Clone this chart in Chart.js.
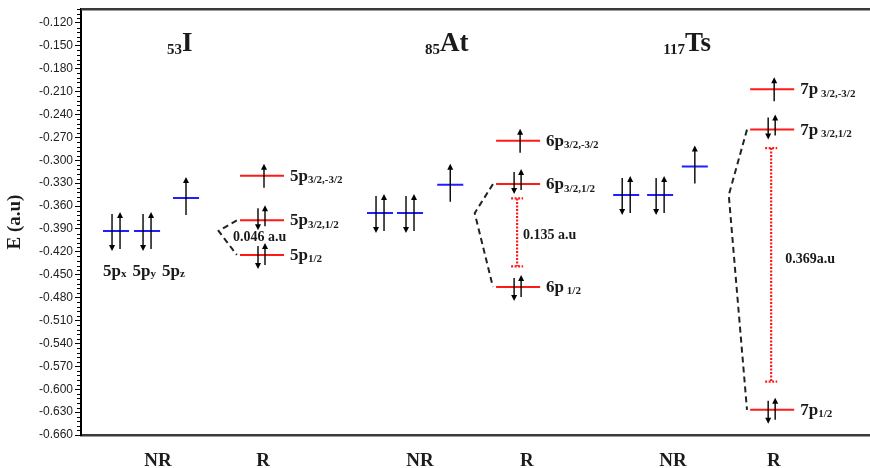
<!DOCTYPE html>
<html lang="en">
<head>
<meta charset="UTF-8">
<title>p-orbital energies: I, At, Ts (NR vs R)</title>
<script src="https://cdn.jsdelivr.net/npm/chart.js@4.4.0/dist/chart.umd.min.js"></script>
<style>
  html, body { margin: 0; padding: 0; background: #fff; }
  #wrap { width: 870px; height: 468px; }
</style>
</head>
<body>
<div id="wrap"><canvas id="levels"></canvas></div>
<script>
// ---- data, energies in a.u. ----
const elements = ['I', 'At', 'Ts'];
const atomicNumbers = ['53', '85', '117'];
const shells = ['5', '6', '7'];
const nrPxy = [-0.3926, -0.3692, -0.3455];   // NR p_x = p_y (doubly occupied)
const nrPz  = [-0.3494, -0.3320, -0.3082];   // NR p_z (single electron)
const rP32b = [-0.3203, -0.2745, -0.2070];   // R p3/2,-3/2
const rP32a = [-0.3787, -0.3312, -0.2598];   // R p3/2,1/2
const rP12  = [-0.4240, -0.4660, -0.6270];   // R p1/2
const rSubs = [
  ['3/2,-3/2', '3/2,1/2', '1/2'],
  ['3/2,-3/2', '3/2,1/2', ' 1/2'],
  [' 3/2,-3/2', ' 3/2,1/2', '1/2']
];
const splitText = ['0.046 a.u', '0.135 a.u', '0.369a.u'];
const gapTop    = [null, -0.350, -0.284];
const gapBottom = [null, -0.439, -0.590];
const yTicks = [-0.120, -0.150, -0.180, -0.210, -0.240, -0.270, -0.300, -0.330, -0.360, -0.390,
                -0.420, -0.450, -0.480, -0.510, -0.540, -0.570, -0.600, -0.630, -0.660];
const colLabels = ['NR', 'R', 'NR', 'R', 'NR', 'R'];

// ---- layout (x in 0..100 plot units) ----
const nrX = [[4.44, 8.37, 13.31], [37.9, 41.7, 46.8], [69.1, 73.4, 77.8]];
const rX = [22.94, 55.4, 87.6];
const colX = [9.76, 23.07, 42.97, 56.5, 75.03, 87.8];
const titleX = [10.9, 43.6, 73.8];
const splitDx = [-29, 5, 13];
const splitY = [-0.4015, -0.398, -0.4295];
const NR_HW = 1.65, R_HW = 2.79;
const BLUE = '#1f1fff', RED = '#ff1a1a';
const SERIF = "'Liberation Serif', 'DejaVu Serif', serif";

const datasets = [];
function level(x, hw, y, color) {
  datasets.push({ data: [{ x: x - hw, y }, { x: x + hw, y }], borderColor: color, borderWidth: 2, pointRadius: 0 });
}
elements.forEach((el, i) => {
  level(nrX[i][0], NR_HW, nrPxy[i], BLUE);
  level(nrX[i][1], NR_HW, nrPxy[i], BLUE);
  level(nrX[i][2], NR_HW, nrPz[i], BLUE);
  [rP32b, rP32a, rP12].forEach(a => level(rX[i], R_HW, a[i], RED));
  // dashed line from the split R levels back to the NR level
  datasets.push({
    data: [{ x: rX[i] - R_HW - 0.4, y: rP32a[i] }, { x: rX[i] - 5.5, y: nrPxy[i] }, { x: rX[i] - R_HW - 0.4, y: rP12[i] }],
    borderColor: '#222', borderWidth: 2, borderDash: [6, 4], pointRadius: 0
  });
});

function arrow(ctx, x, y0, y1) {
  const dir = Math.sign(y1 - y0);
  ctx.beginPath();
  ctx.moveTo(x, y0);
  ctx.lineTo(x, y1 - dir * 4);
  ctx.stroke();
  ctx.beginPath();
  ctx.moveTo(x, y1);
  ctx.lineTo(x - 3, y1 - dir * 6);
  ctx.lineTo(x + 3, y1 - dir * 6);
  ctx.closePath();
  ctx.fill();
}

function subText(ctx, x, y, main, sub, mainSize, subSize, drop) {
  ctx.font = 'bold ' + mainSize + 'px ' + SERIF;
  ctx.fillText(main, x, y);
  const w = ctx.measureText(main).width;
  ctx.font = 'bold ' + subSize + 'px ' + SERIF;
  ctx.fillText(sub, x + w, y + drop);
  return w + ctx.measureText(sub).width;
}

const diagram = {
  id: 'diagram',
  afterDraw(chart) {
    const { ctx, chartArea: a, scales: { x, y } } = chart;
    ctx.save();
    // top frame line
    ctx.strokeStyle = '#3a3a3a';
    ctx.lineWidth = 2.5;
    ctx.beginPath();
    ctx.moveTo(a.left, a.top);
    ctx.lineTo(a.right, a.top);
    ctx.stroke();
    // minor ticks
    ctx.strokeStyle = '#000';
    ctx.lineWidth = 1;
    for (let k = 0; k < 94; k++) {
      if (k % 5 === 0) continue;
      const py = Math.round(y.getPixelForValue(-0.660 + k * 0.006)) + 0.5;
      ctx.beginPath();
      ctx.moveTo(a.left - 4, py);
      ctx.lineTo(a.left, py);
      ctx.stroke();
    }

    ctx.fillStyle = '#000';
    ctx.strokeStyle = '#000';
    ctx.lineWidth = 1.4;
    elements.forEach((el, i) => {
      // NR arrows
      [0, 1].forEach(j => {
        const cx = x.getPixelForValue(nrX[i][j]), py = y.getPixelForValue(nrPxy[i]);
        arrow(ctx, cx - 4, py - 17, py + 20);
        arrow(ctx, cx + 4, py + 18, py - 19);
      });
      let cx = x.getPixelForValue(nrX[i][2]), py = y.getPixelForValue(nrPz[i]);
      arrow(ctx, cx, py + 17, py - 21);
      // R arrows
      cx = x.getPixelForValue(rX[i]);
      py = y.getPixelForValue(rP32b[i]);
      arrow(ctx, cx + 2, py + 12, py - 12);
      const p1 = y.getPixelForValue(rP32a[i]);
      arrow(ctx, cx - 4, p1 - 12, p1 + 10);
      arrow(ctx, cx + 3, p1 + 6, p1 - 15);
      const p2 = y.getPixelForValue(rP12[i]);
      arrow(ctx, cx - 4, p2 - 9, p2 + 14);
      arrow(ctx, cx + 3, p2 + 10, p2 - 12);
    });

    // split intervals (red dotted)
    ctx.strokeStyle = RED;
    ctx.lineWidth = 2.2;
    ctx.setLineDash([2, 1.5]);
    elements.forEach((el, i) => {
      if (gapTop[i] == null) return;
      const cx = x.getPixelForValue(rX[i]) - 1;
      const t = y.getPixelForValue(gapTop[i]), b = y.getPixelForValue(gapBottom[i]);
      ctx.beginPath();
      ctx.moveTo(cx, t); ctx.lineTo(cx, b);
      ctx.moveTo(cx - 6, t); ctx.lineTo(cx + 6, t);
      ctx.moveTo(cx - 6, b); ctx.lineTo(cx + 6, b);
      ctx.stroke();
    });
    ctx.setLineDash([]);

    // texts
    ctx.fillStyle = '#1a1a1a';
    ctx.textAlign = 'left';
    ctx.textBaseline = 'alphabetic';
    elements.forEach((el, i) => {
      // element title with atomic number as pre-subscript
      const tx = x.getPixelForValue(titleX[i]);
      ctx.font = 'bold 15px ' + SERIF;
      ctx.fillText(atomicNumbers[i], tx, a.top + 45);
      const sw = ctx.measureText(atomicNumbers[i]).width;
      ctx.font = 'bold 27px ' + SERIF;
      ctx.fillText(el, tx + sw, a.top + 42);
      // R level labels
      const lx = x.getPixelForValue(rX[i] + R_HW) + 6;
      [rP32b, rP32a, rP12].forEach((a2, j) => {
        const p = y.getPixelForValue(a2[i]);
        subText(ctx, lx, p + 5, shells[i] + 'p', rSubs[i][j], 17, 11, 2.5);
      });
      // split value
      ctx.font = 'bold 14px ' + SERIF;
      ctx.textBaseline = 'middle';
      ctx.fillText(splitText[i], x.getPixelForValue(rX[i]) + splitDx[i], y.getPixelForValue(splitY[i]));
      ctx.textBaseline = 'alphabetic';
    });
    // NR orbital names for iodine
    let nx = x.getPixelForValue(nrX[0][0] - NR_HW);
    const ny = y.getPixelForValue(nrPxy[0]) + 45;
    ['x', 'y', 'z'].forEach(s => {
      nx += subText(ctx, nx, ny, shells[0] + 'p', s, 17, 11, 1) + 6;
    });
    ctx.restore();
  }
};

new Chart(document.getElementById('levels'), {
  type: 'line',
  data: { datasets },
  options: {
    responsive: true,
    maintainAspectRatio: false,
    devicePixelRatio: 1,
    animation: false,
    layout: { padding: { top: 5, right: 0, left: 0, bottom: 0 } },
    plugins: { legend: { display: false }, tooltip: { enabled: false } },
    elements: { line: { tension: 0 } },
    scales: {
      x: {
        type: 'linear', min: 0, max: 100,
        grid: { display: false },
        border: { color: '#3a3a3a', width: 2.5 },
        ticks: {
          padding: 7, autoSkip: false, maxRotation: 0, color: '#1c1c1c',
          font: { family: SERIF, size: 19, weight: 'bold' },
          callback: (v, idx) => colLabels[idx]
        },
        afterBuildTicks: axis => { axis.ticks = colX.map(v => ({ value: v })); },
        afterFit: axis => { axis.height = 33; }
      },
      y: {
        type: 'linear', min: -0.660, max: -0.102,
        grid: { drawOnChartArea: false, drawTicks: true, tickLength: 6, color: '#000', lineWidth: 1 },
        border: { color: '#000', width: 2 },
        ticks: {
          padding: 2, autoSkip: false, color: '#222',
          font: { family: "'Liberation Sans', Arial, sans-serif", size: 12 },
          callback: v => v.toFixed(3)
        },
        title: { display: true, text: 'E (a.u)', color: '#1c1c1c', font: { family: SERIF, size: 19, weight: 'bold' } },
        afterBuildTicks: axis => { axis.ticks = yTicks.map(v => ({ value: v })); },
        afterFit: axis => { axis.width = 81; }
      }
    }
  },
  plugins: [diagram]
});
</script>
</body>
</html>
